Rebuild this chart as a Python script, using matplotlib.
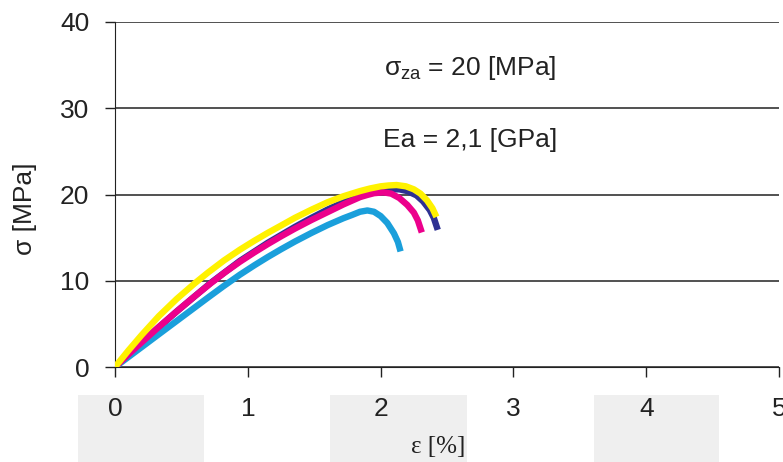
import matplotlib.pyplot as plt
from matplotlib.patches import Rectangle
from matplotlib.transforms import blended_transform_factory

plt.rcParams['font.family'] = ['Liberation Sans', 'DejaVu Sans']
plt.rcParams['mathtext.fontset'] = 'custom'
plt.rcParams['mathtext.rm'] = 'Liberation Sans'
plt.rcParams['mathtext.it'] = 'Liberation Sans'

# strain [%] and stress [MPa]
eps_yellow = [0, 0.1, 0.2, 0.33, 0.465, 0.6, 0.7, 0.82, 0.94, 1.05, 1.15, 1.25, 1.355,
              1.48, 1.6, 1.72, 1.845, 1.92, 2.0, 2.06, 2.12, 2.19, 2.25, 2.3, 2.35, 2.39, 2.42]
sig_yellow = [0, 1.9, 3.7, 5.9, 7.9, 9.7, 10.95, 12.35, 13.6, 14.65, 15.55, 16.4, 17.3,
              18.25, 19.1, 19.8, 20.4, 20.7, 20.95, 21.05, 21.1, 20.95, 20.6, 20.1, 19.3, 18.4, 17.4]

eps_navy = [0, 0.2, 0.465, 0.72, 0.94, 1.15, 1.355, 1.48, 1.6, 1.72, 1.845, 1.95, 2.07,
            2.14, 2.2, 2.27, 2.32, 2.37, 2.4, 2.43]
sig_navy = [0, 2.85, 6.45, 9.75, 12.3, 14.4, 16.25, 17.3, 18.25, 19.1, 19.85, 20.3, 20.6,
            20.6, 20.4, 19.9, 19.2, 18.2, 17.3, 15.9]

eps_magenta = [0, 0.1, 0.2, 0.33, 0.465, 0.6, 0.72, 0.83, 0.94, 1.05, 1.15, 1.25, 1.355,
               1.48, 1.6, 1.72, 1.845, 1.9, 1.95, 2.02, 2.08, 2.14, 2.2, 2.25, 2.28, 2.31]
sig_magenta = [0, 1.45, 2.85, 4.65, 6.45, 8.2, 9.7, 11.0, 12.2, 13.3, 14.25, 15.15, 16.05,
               17.05, 17.95, 18.85, 19.7, 19.95, 20.15, 20.25, 20.1, 19.6, 18.8, 17.9, 17.0, 15.6]

eps_blue = [0, 0.1, 0.2, 0.33, 0.465, 0.6, 0.7, 0.815, 0.94, 1.05, 1.15, 1.25, 1.355,
            1.48, 1.6, 1.72, 1.78, 1.845, 1.9, 1.95, 2.0, 2.05, 2.1, 2.13, 2.15]
sig_blue = [0, 1.15, 2.3, 3.8, 5.35, 6.9, 8.05, 9.35, 10.7, 11.8, 12.75, 13.65, 14.55,
            15.55, 16.45, 17.25, 17.6, 18.0, 18.15, 18.0, 17.5, 16.7, 15.5, 14.5, 13.4]

x_ticks = [0, 1, 2, 3, 4, 5]
y_ticks = [0, 10, 20, 30, 40]

fig = plt.figure(figsize=(7.83, 4.62), dpi=100)
ax = fig.add_axes([0.1469, 0.2056, 0.8481, 0.7468])

lw = 4.6
style = dict(lw=lw, solid_capstyle='butt', solid_joinstyle='round')
ax.plot(eps_navy, sig_navy, color='#2e3192', zorder=3, **style)
ax.plot(eps_blue, sig_blue, color='#1a9fdb', zorder=4, **style)
ax.plot(eps_magenta, sig_magenta, color='#ec008c', zorder=5, **style)
ax.plot(eps_yellow, sig_yellow, color='#fff200', zorder=6, **style)

ax.set_xlim(0, 5)
ax.set_ylim(0, 40)
ax.set_xticks(x_ticks)
ax.set_yticks(y_ticks)
ax.set_xticklabels([str(v) for v in x_ticks])
ax.set_yticklabels([str(v) for v in y_ticks])

ax.spines['top'].set_visible(False)
ax.spines['right'].set_visible(False)
ax.spines['left'].set_color('#222222')
ax.spines['bottom'].set_color('#222222')
ax.yaxis.grid(True, color='#222222', lw=1.1)
ax.set_axisbelow(True)
ax.tick_params(axis='both', direction='out', length=7.5, width=1, color='#222222',
               labelsize=19, labelcolor='#222222')
ax.tick_params(axis='y', pad=11)
ax.tick_params(axis='x', pad=14)

# grey boxes behind the x tick labels
tr = blended_transform_factory(ax.transData, fig.transFigure)
for x0, x1 in [(-0.28, 0.67), (1.62, 2.65), (3.61, 4.55)]:
    ax.add_patch(Rectangle((x0, 0), x1 - x0, 0.145, transform=tr, clip_on=False,
                           facecolor='#efefef', edgecolor='none', zorder=0))

ax.text(2.67, 34.7, r'$\sigma_{\rm za}$ = 20 [MPa]', fontsize=19, ha='center', va='center', color='#222222')
ax.text(2.67, 26.3, 'Ea = 2,1 [GPa]', fontsize=19, ha='center', va='center', color='#222222')

fig.text(438 / 783, 1 - 447 / 462, 'ε [%]', fontsize=18, ha='center', va='center',
         color='#222222', family=['Liberation Serif', 'DejaVu Serif'])
fig.text(25 / 783, 1 - 209 / 462, 'σ [MPa]', fontsize=19, rotation=90, ha='center', va='center',
         color='#222222')

fig.savefig('out.png', dpi=100)
